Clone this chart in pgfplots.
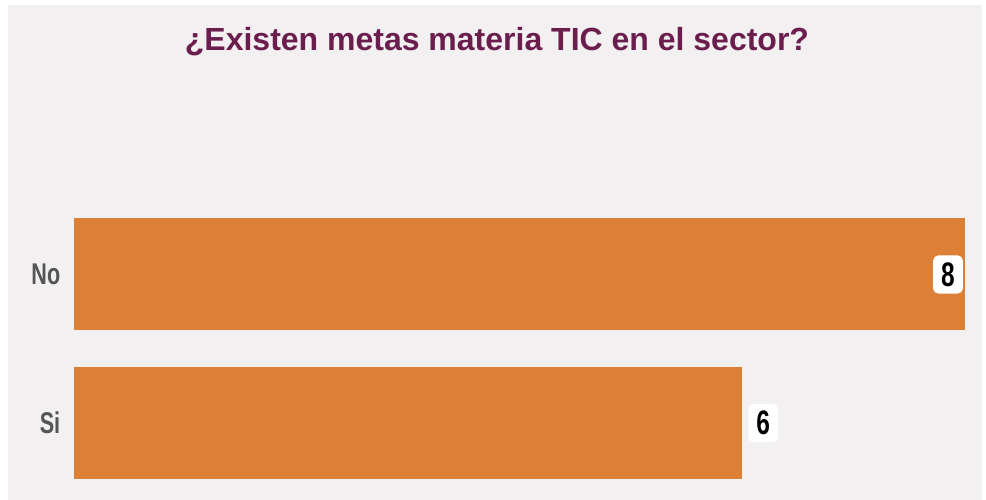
\documentclass[border=0pt]{standalone}
\usepackage{fontspec}
\setmainfont{Liberation Sans}[FakeStretch=0.72]
\newfontfamily\titlefont{Liberation Sans}
\usepackage{pgfplots}
\pgfplotsset{compat=1.18}
\definecolor{panel}{HTML}{F3F0F1}
\definecolor{barc}{HTML}{DC7F37}
\definecolor{titlec}{HTML}{6B1E4E}
\definecolor{labc}{HTML}{555555}
\begin{document}
\begin{tikzpicture}[x=1pt,y=1pt]
\fill[white] (0,0) rectangle (986,500);
\fill[panel] (8,0) rectangle (982,495);
\node[text=titlec, font=\titlefont\bfseries\fontsize{32}{32}\selectfont, anchor=center] at (497,458) {¿Existen metas materia TIC en el sector?};
\begin{axis}[
  at={(74pt,2.75pt)}, anchor=south west,
  scale only axis, width=891pt, height=297pt,
  xbar, xmin=0, xmax=8, ymin=-0.5, ymax=1.5,
  bar width=112pt, bar shift=0pt,
  axis line style={draw=none}, tick style={draw=none},
  xtick=\empty, ytick={0,1}, yticklabels={Si,No},
  yticklabel style={font=\bfseries\fontsize{30}{30}\selectfont, text=labc, anchor=east, xshift=-6pt},
  clip=false,
  /pgf/number format/assume math mode=true,
  nodes near coords,
  every node near coord/.append style={font=\bfseries\fontsize{34}{34}\selectfont, text=black, fill=white, rounded corners=5pt, inner xsep=8pt, inner ysep=7pt},
]
\addplot[fill=barc, draw=none, nodes near coords style={anchor=east, xshift=-2pt}] coordinates {(8,1)};
\addplot[fill=barc, draw=none, nodes near coords style={anchor=west, xshift=6pt}] coordinates {(6,0)};
\end{axis}
\end{tikzpicture}
\end{document}
